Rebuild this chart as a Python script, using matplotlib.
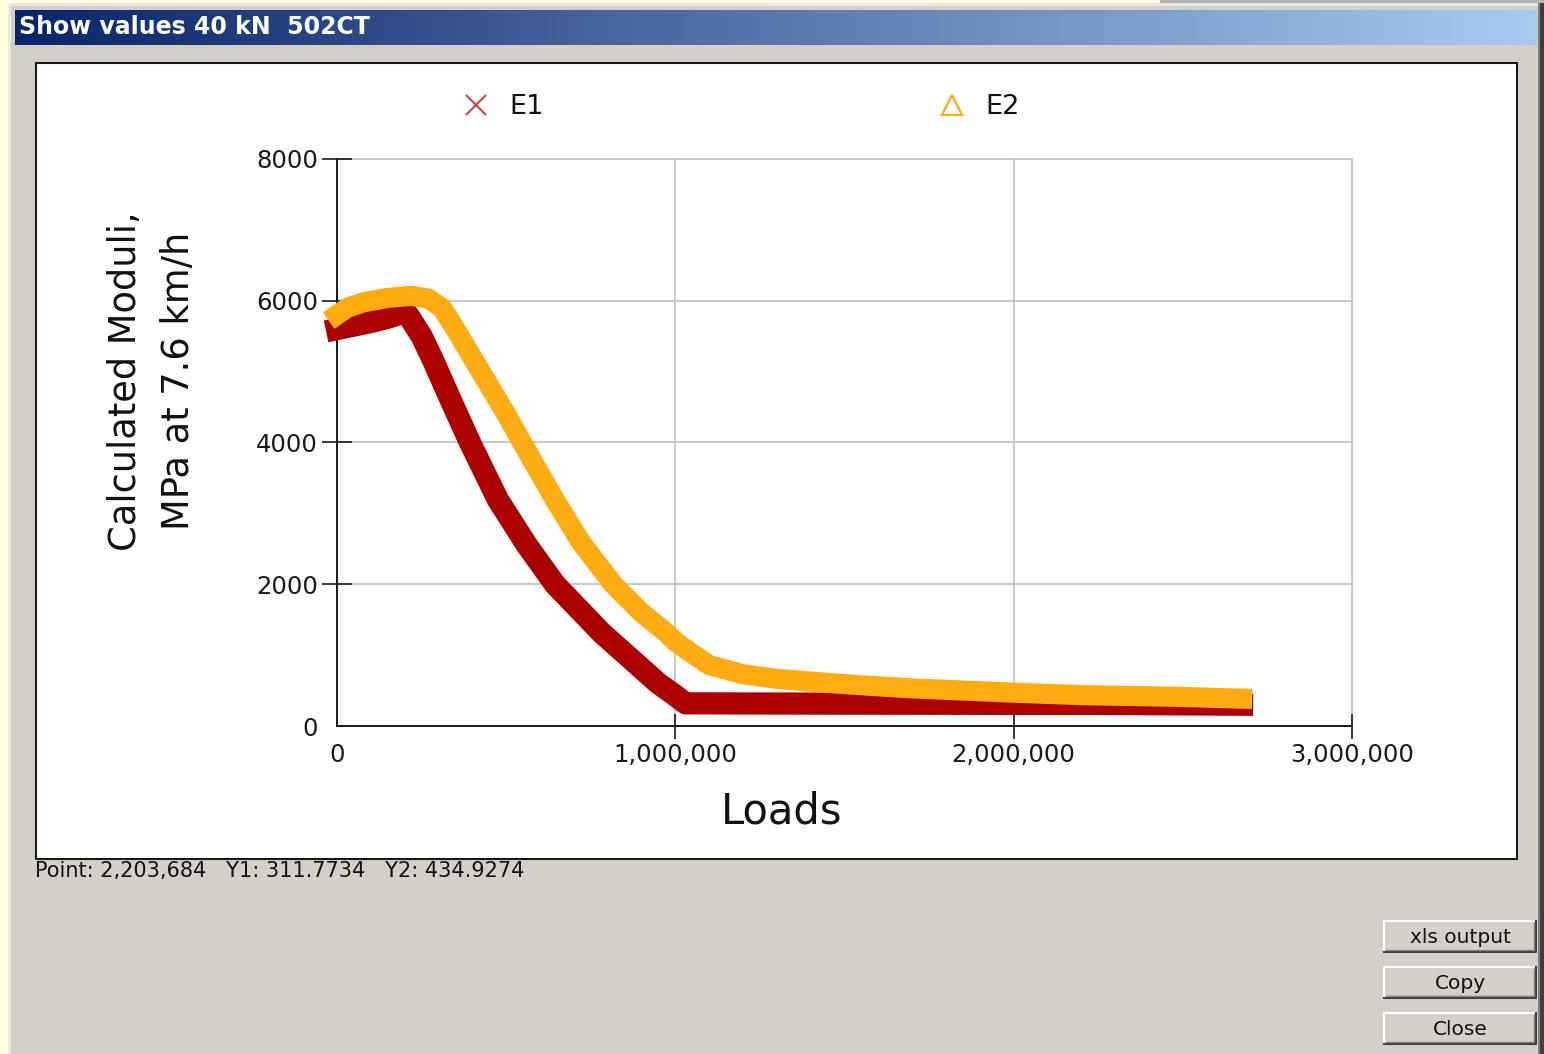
import numpy as np
import matplotlib.pyplot as plt
from matplotlib.patches import Rectangle
from matplotlib.lines import Line2D
from matplotlib.ticker import FuncFormatter

# moduli back-calculated from the FWD drops, per number of load passes
loads_e1 = [0, 20000, 50000, 100000, 150000, 190000, 210000, 250000, 284000,
            336000, 393000, 476000, 560000, 644000, 783000, 896000, 950000,
            1000000, 1030000, 1200000, 1500000, 2000000, 2203684, 2500000, 2675000]
e1 = [5600, 5620, 5650, 5700, 5760, 5820, 5800, 5500, 5160,
      4600, 4000, 3190, 2560, 2000, 1310, 830, 600,
      430, 320, 318, 315, 312, 311.7734, 305, 300]

loads_e2 = [0, 30000, 80000, 150000, 220000, 270000, 310000, 350000, 400000,
            450000, 500000, 547000, 644000, 720000, 816000, 900000, 975000,
            1000000, 1050000, 1100000, 1200000, 1300000, 1500000, 1700000,
            2000000, 2203684, 2500000, 2675000]
e2 = [5800, 5900, 5980, 6040, 6070, 6030, 5900, 5600, 5200,
      4800, 4400, 4000, 3190, 2600, 2000, 1600, 1310,
      1190, 1020, 860, 730, 665, 590, 530,
      470, 434.9274, 410, 385]

x_ticks = [0, 1000000, 2000000, 3000000]
y_ticks = [0, 2000, 4000, 6000, 8000]

W, H = 1544, 1054
fig = plt.figure(figsize=(W / 100, H / 100), dpi=100)
fig.patch.set_facecolor('#D4D0C8')

# dialog chrome drawn in pixel coordinates
bg = fig.add_axes([0, 0, 1, 1])
bg.axis('off')

bg.add_patch(Rectangle((0, 0), 8, H, color='#FFFFE0', lw=0))
bg.add_patch(Rectangle((8, 3), 3, H, color='#ECE9E2', lw=0))
bg.add_patch(Rectangle((0, 0), 1160, 3, color='#FFFFE0', lw=0))
bg.add_patch(Rectangle((1160, 0), W - 1160, 3, color='#B4B4B4', lw=0))
bg.add_patch(Rectangle((8, 3), 1532, 3, color='#ECE9E2', lw=0))
bg.add_patch(Rectangle((1538, 3), 2, H, color='#808080', lw=0))
bg.add_patch(Rectangle((1540, 3), 4, H, color='#404040', lw=0))

# caption bar gradient
c0 = np.array([10, 36, 106]) / 255
c1 = np.array([166, 202, 240]) / 255
t = np.linspace(0, 1, 256)
grad = (c0[None, :] * (1 - t[:, None]) + c1[None, :] * t[:, None])[None, :, :]
bg.imshow(grad, extent=(15, 1537, 45, 10), aspect='auto', interpolation='bilinear')
bg.set_xlim(0, W)
bg.set_ylim(H, 0)
bg.text(19, 27.5, 'Show values 40 kN  502CT', color='white', fontsize=17,
        fontweight='bold', va='center', ha='left')

# white chart panel
bg.add_patch(Rectangle((36, 63), 1481, 796, facecolor='white',
                       edgecolor='#1A1A1A', lw=1.5))

bg.text(35, 871, 'Point: 2,203,684   Y1: 311.7734   Y2: 434.9274',
        fontsize=15, color='#111111', va='center', ha='left')

# buttons
for label, y0 in [('xls output', 921), ('Copy', 967), ('Close', 1013)]:
    x0, bw, bh = 1384, 152, 31
    bg.add_patch(Rectangle((x0, y0), bw, bh, facecolor='#D4D0C8', lw=0))
    bg.plot([x0, x0, x0 + bw], [y0 + bh, y0, y0], color='white', lw=1.5)
    bg.plot([x0, x0 + bw, x0 + bw], [y0 + bh, y0 + bh, y0], color='#404040', lw=1.5)
    bg.plot([x0 + 2, x0 + bw - 2, x0 + bw - 2], [y0 + bh - 2, y0 + bh - 2, y0 + 2],
            color='#808080', lw=1)
    bg.text(x0 + bw / 2, y0 + bh / 2 + 1, label, fontsize=14.5, color='#111111',
            ha='center', va='center')

# the chart itself
ax = fig.add_axes([337 / W, 1 - 726 / H, (1352 - 337) / W, (726 - 159) / H])
ax.set_zorder(2)
ax.patch.set_visible(False)

ax.plot(loads_e1, e1, color='#AD0000', lw=16, solid_capstyle='projecting',
        solid_joinstyle='round', clip_on=False, zorder=3)
ax.plot(loads_e2, e2, color='#FFAB12', lw=14.5, solid_capstyle='projecting',
        solid_joinstyle='round', clip_on=False, zorder=4)

ax.set_xlim(0, 3000000)
ax.set_ylim(0, 8000)
ax.set_xticks(x_ticks)
ax.set_yticks(y_ticks)
ax.xaxis.set_major_formatter(FuncFormatter(lambda v, p: f'{int(v):,}'))
ax.grid(True, color='#C4C4C4', lw=1.3)
ax.set_axisbelow(True)
for gl in ax.get_xgridlines() + ax.get_ygridlines():
    gl.set_clip_on(False)

for side in ['top', 'right']:
    ax.spines[side].set_visible(False)
for side in ['left', 'bottom']:
    ax.spines[side].set_color('#1A1A1A')
    ax.spines[side].set_linewidth(1.4)

ax.tick_params(axis='y', direction='inout', length=21.6, width=1.2, color='#1A1A1A',
               pad=3, labelsize=17.5, labelcolor='#1A1A1A')
ax.tick_params(axis='x', direction='inout', length=18, width=1.2, color='#1A1A1A',
               pad=3, labelsize=17.5, labelcolor='#1A1A1A')
ax.yaxis.get_major_ticks()[0].tick1line.set_visible(False)
ax.xaxis.get_major_ticks()[0].tick1line.set_visible(False)

bg.text(782, 812, 'Loads', fontsize=30, color='#111111', ha='center', va='center')
bg.text(152, 381, 'Calculated Moduli,\nMPa at 7.6 km/h', fontsize=26.5,
        color='#111111', rotation=90, ha='center', va='center',
        multialignment='center', linespacing=1.55)

handles = [
    Line2D([], [], marker='x', color='#D03A3A', ls='none', markersize=14, mew=1.4),
    Line2D([], [], marker='^', markerfacecolor='none', markeredgecolor='#FFAB12',
           ls='none', markersize=15, mew=1.6),
]
leg = fig.legend(handles, ['E1', 'E2'], loc='center', ncol=2, frameon=False,
                 bbox_to_anchor=(741, 107), bbox_transform=bg.transData,
                 fontsize=19.5, handlelength=1.0, handletextpad=0.72,
                 columnspacing=14.6)
for txt in leg.get_texts():
    txt.set_color('#111111')
leg.set_zorder(5)

fig.savefig('out.png', dpi=100, facecolor=fig.get_facecolor())
